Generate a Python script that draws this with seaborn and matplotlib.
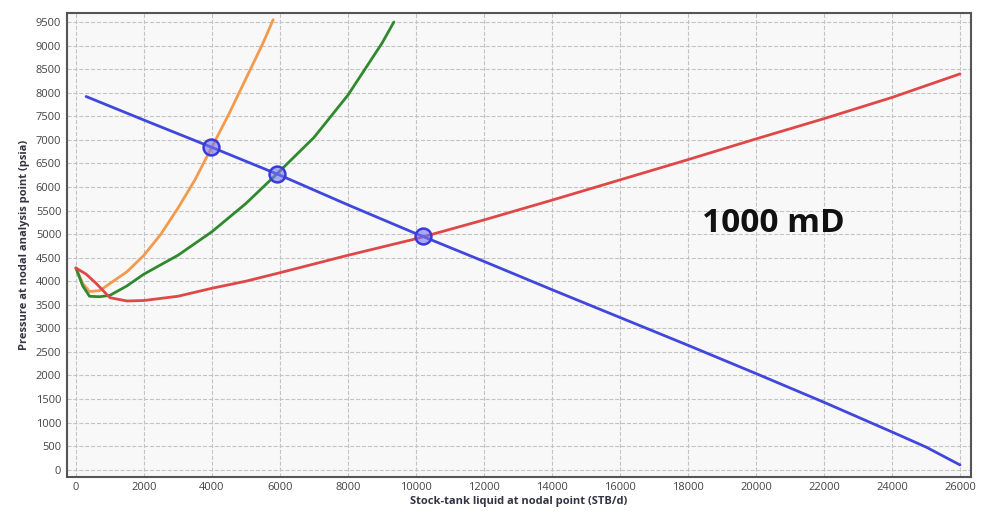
import numpy as np
import pandas as pd
import matplotlib
matplotlib.use("Agg")
import matplotlib.pyplot as plt
import seaborn as sns

# ------------------------------------------------------------------
#  Data
# ------------------------------------------------------------------
ipr_x = [300, 2000, 4000, 6000, 8000, 10000, 12000, 14000, 16000,
         18000, 20000, 22000, 24000, 25000, 26000]
ipr_y = [7920, 7420, 6840, 6250, 5620, 5010, 4420, 3820, 3230,
         2640, 2040, 1430, 800, 480, 100]

orange_x = [0, 200, 400, 700, 1000, 1500, 2000, 2500, 3000, 3500,
            4000, 4500, 5000, 5500, 5800]
orange_y = [4280, 3950, 3780, 3800, 3950, 4200, 4550, 5000, 5550, 6150,
            6850, 7550, 8300, 9050, 9550]

green_x = [0, 200, 400, 700, 1000, 1500, 2000, 3000, 4000, 5000,
           5900, 7000, 8000, 9000, 9350]
green_y = [4280, 3900, 3680, 3670, 3700, 3900, 4150, 4550, 5050, 5650,
           6270, 7050, 7950, 9050, 9500]

red_x = [0, 300, 600, 1000, 1500, 2000, 3000, 4000, 5000, 6000, 8000,
         10000, 12000, 14000, 16000, 18000, 20000, 22000, 24000, 26000]
red_y = [4280, 4150, 3950, 3650, 3580, 3590, 3680, 3850, 4000, 4180,
         4550, 4900, 5300, 5720, 6150, 6580, 7020, 7450, 7900, 8400]

op_x = [3980, 5900, 10200]
op_y = [6850, 6270, 4950]

annotation = "1000 mD"

# ------------------------------------------------------------------
#  Plot
# ------------------------------------------------------------------
sns.set_style("white")
plt.rcParams["font.family"] = ["Open Sans", "DejaVu Sans"]

fig = plt.figure(figsize=(9.84, 5.25), dpi=100)
ax = fig.add_axes([0.068, 0.092, 0.919, 0.883])
ax.set_facecolor("#f8f8f8")

curves = [
    (orange_x, orange_y, "#f39a4c"),
    (green_x, green_y, "#2f8a2f"),
    (red_x, red_y, "#e04848"),
    (ipr_x, ipr_y, "#3f47dc"),
]
for xs, ys, col in curves:
    df = pd.DataFrame({"q": xs, "p": ys})
    sns.lineplot(data=df, x="q", y="p", ax=ax, color=col, linewidth=2,
                 sort=False, estimator=None)

ops = pd.DataFrame({"q": op_x, "p": op_y})
sns.scatterplot(data=ops, x="q", y="p", ax=ax, s=130,
                facecolor=(0.45, 0.45, 0.95, 0.6), edgecolor="#3a3ad8",
                linewidth=1.8, zorder=5)

ax.set_xlim(-265, 26330)
ax.set_ylim(-150, 9690)
ax.set_xticks(np.arange(0, 26001, 2000))
ax.set_yticks(np.arange(0, 9501, 500))
ax.tick_params(axis="both", labelsize=8, labelcolor="#444444", length=0, pad=4)
ax.grid(True, linestyle="--", color="#c4c4c4", linewidth=0.8)

for sp in ax.spines.values():
    sp.set_color("#555555")
    sp.set_linewidth(1.5)

ax.set_xlabel("Stock-tank liquid at nodal point (STB/d)", fontsize=8,
              fontweight="bold", color="#333344", labelpad=2)
ax.set_ylabel("Pressure at nodal analysis point (psia)", fontsize=8,
              fontweight="bold", color="#333344", labelpad=4)

ax.text(20500, 5230, annotation, fontsize=24, fontweight="bold",
        ha="center", va="center", color="#111111")

fig.savefig("out.png", dpi=100)
